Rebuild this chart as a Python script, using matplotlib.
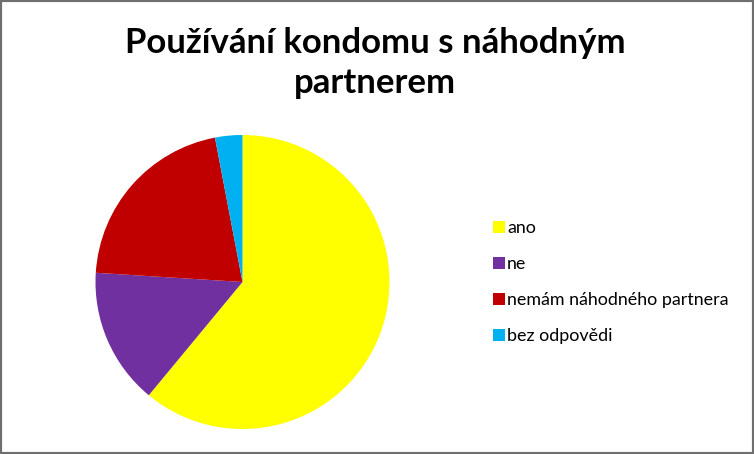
import matplotlib
matplotlib.use("Agg")
import matplotlib.pyplot as plt
from matplotlib.patches import Rectangle, Patch

title_lines = ["Používání kondomu s náhodným", "partnerem"]
categories = ["ano", "ne", "nemám náhodného partnera", "bez odpovědi"]
values = [61, 15, 21, 3]
colors = ["#FFFF00", "#7030A0", "#C00000", "#00B0F0"]

plt.rcParams['font.family'] = ['Lato', 'DejaVu Sans']

W, H = 754, 454
fig = plt.figure(figsize=(W / 100, H / 100), dpi=100)
fig.patch.set_facecolor("white")
renderer = fig.canvas.get_renderer()

cx, cy, r = 242.5, 282, 147
ax = fig.add_axes([(cx - r) / W, 1 - (cy + r) / H, 2 * r / W, 2 * r / H])
ax.pie(values, colors=colors, startangle=90, counterclock=False, radius=1,
       wedgeprops=dict(linewidth=0))
ax.set_xlim(-1, 1)
ax.set_ylim(-1, 1)
ax.set_aspect('auto')
ax.axis('off')

for i, line in enumerate(title_lines):
    fig.text(375 / W, 1 - (53 + 40 * i) / H, line, ha='center', va='baseline',
             fontsize=25, fontweight='bold', color='black')

# fit legend font so the longest label is ~222 px wide
probe = fig.text(0, 0, categories[2], fontsize=10)
wp = probe.get_window_extent(renderer).width
probe.remove()
fs = 10 * 222 / wp
px_per_pt = 100 / 72

handles = [Patch(facecolor=c, edgecolor='none') for c in colors]
hl = 12 / (fs * px_per_pt)
pad = 2 / (fs * px_per_pt)


def make_legend(ls, top):
    return fig.legend(handles, categories, loc='upper left',
                      bbox_to_anchor=(493 / W, 1 - top / H), frameon=False,
                      fontsize=fs, handlelength=hl, handleheight=hl,
                      handletextpad=pad, labelspacing=ls, borderaxespad=0,
                      borderpad=0)


ls, top = 0.9, 217
for _ in range(3):
    leg = make_legend(ls, top)
    fig.canvas.draw()
    ys = [H - t.get_window_extent(renderer).y0 - t.get_window_extent(renderer).height / 2
          for t in leg.get_texts()]
    pitch = (ys[-1] - ys[0]) / 3
    ls += (36 - pitch) / (fs * px_per_pt)
    top += 228 - ys[0]
    leg.remove()
leg = make_legend(ls, top)

fig.add_artist(Rectangle((0, 0), 1, 1, transform=fig.transFigure, fill=False,
                         edgecolor='#6f6f6f', linewidth=3))

fig.savefig("out.png", dpi=100)
